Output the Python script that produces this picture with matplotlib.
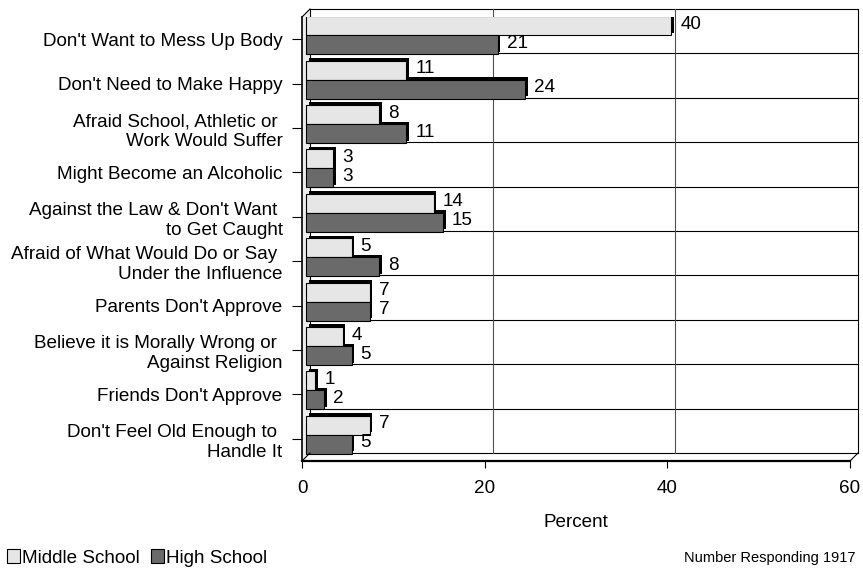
import numpy as np
import matplotlib
matplotlib.use("Agg")
from matplotlib import pyplot as plt
from matplotlib.patches import Patch, Polygon
from matplotlib.lines import Line2D
from matplotlib.transforms import ScaledTranslation, IdentityTransform

plt.rcParams['font.family'] = ['Liberation Sans', 'DejaVu Sans']

# Reasons for not drinking (first line of two-line labels keeps a trailing space)
categories = ["Don't Want to Mess Up Body",
              "Don't Need to Make Happy",
              "Afraid School, Athletic or \nWork Would Suffer",
              "Might Become an Alcoholic",
              "Against the Law & Don't Want \nto Get Caught",
              "Afraid of What Would Do or Say \nUnder the Influence",
              "Parents Don't Approve",
              "Believe it is Morally Wrong or \nAgainst Religion",
              "Friends Don't Approve",
              "Don't Feel Old Enough to \nHandle It"]
middle_school = [40, 11, 8, 3, 14, 5, 7, 4, 1, 7]
high_school = [21, 24, 11, 3, 15, 8, 7, 5, 2, 5]
x_ticks = [0, 20, 40, 60]

light = "#e6e6e6"
dark = "#6a6a6a"
fs = 13.6

fig = plt.figure(figsize=(8.63, 5.69), dpi=100)
# axes = front plane of the pseudo-3D box
ax = fig.add_axes([302 / 863, 1 - 461 / 569, 548 / 863, 444 / 569])
n = len(categories)
ax.set_xlim(0, 60)
ax.set_ylim(n - 0.5, -0.5)
ax.set_autoscale_on(False)
for s in ax.spines.values():
    s.set_visible(False)

def shifted(d):
    # move d pixels back into the depth of the box
    return ax.transData + ScaledTranslation(d / 100, d / 100, fig.dpi_scale_trans)

mid = shifted(4)
shadow = shifted(6.5)

y = np.arange(n)
h = 0.43
# shadows first, then faces
ax.barh(y - h / 2, middle_school, height=h, color="black", transform=shadow, zorder=2)
ax.barh(y + h / 2, high_school, height=h, color="black", transform=shadow, zorder=2)
ax.barh(y - h / 2, middle_school, height=h, color=light, edgecolor="black",
        linewidth=0.8, transform=mid, zorder=3)
ax.barh(y + h / 2, high_school, height=h, color=dark, edgecolor="black",
        linewidth=0.8, transform=mid, zorder=3)

for i in range(n):
    ax.annotate(str(middle_school[i]), xy=(middle_school[i], y[i] - h / 2), xycoords=mid,
                xytext=(6.5, 1), textcoords="offset points", va="center", fontsize=fs, zorder=4)
    ax.annotate(str(high_school[i]), xy=(high_school[i], y[i] + h / 2), xycoords=mid,
                xytext=(6.5, 1), textcoords="offset points", va="center", fontsize=fs, zorder=4)

fig.canvas.draw()

def px(x, yy, d=0):
    X, Y = ax.transData.transform((x, yy))
    return X + d, Y + d

def seg(p, q, lw=0.8, color="black", z=1):
    ax.add_line(Line2D([p[0], q[0]], [p[1], q[1]], transform=IdentityTransform(),
                       color=color, linewidth=lw, zorder=z, clip_on=False))

top, bot = -0.5, n - 0.5
# left side wall
ax.add_patch(Polygon([px(0, top), px(0, top, 8), px(0, bot, 8), px(0, bot)],
                     closed=True, transform=IdentityTransform(), clip_on=False,
                     facecolor="#ececec", edgecolor="none", zorder=0.5))
# back wall
seg(px(0, top, 8), px(60, top, 8))
seg(px(0, top, 8), px(0, bot, 8))
seg(px(60, top, 8), px(60, bot, 8))
seg(px(0, bot, 8), px(60, bot, 8))
for k in range(1, n):
    seg(px(0, k - 0.5, 8), px(60, k - 0.5, 8))
for t in x_ticks[1:-1]:
    seg(px(t, top, 8), px(t, bot, 8), color="#505050")
# front edges and depth diagonals
seg(px(0, top), px(0, bot), lw=1.2, z=5)
seg(px(0, bot), px(60, bot), lw=1.6, z=5)
seg(px(0, top), px(0, top, 8), z=5)
seg(px(0, bot), px(0, bot, 8), z=5)
seg(px(60, bot), px(60, bot, 8), z=5)

ax.set_yticks(y)
ax.set_yticklabels(categories, fontsize=fs, linespacing=1.25)
ax.set_xticks(x_ticks)
ax.tick_params(axis="y", length=7, width=0.8, pad=7)
ax.tick_params(axis="x", length=5, width=0.8, pad=9, labelsize=fs)
ax.set_xlabel("Percent", fontsize=fs, labelpad=12)

fig.legend(handles=[Patch(facecolor=light, edgecolor="black", linewidth=0.8, label="Middle School"),
                    Patch(facecolor=dark, edgecolor="black", linewidth=0.8, label="High School")],
           loc="center left", bbox_to_anchor=(0.008, 1 - 558 / 569), ncol=2, frameon=False,
           fontsize=fs, handlelength=0.7, handleheight=0.7, handletextpad=0.1,
           columnspacing=0.6, borderpad=0, borderaxespad=0)
fig.text(855 / 863, 1 - 558 / 569, "Number Responding 1917", ha="right", va="center", fontsize=10.5)

fig.savefig("out.png", dpi=100)
